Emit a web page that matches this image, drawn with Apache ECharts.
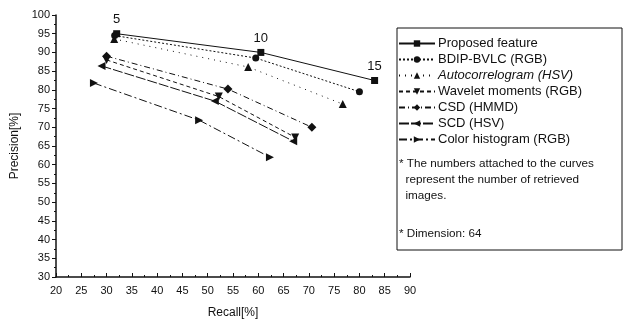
<!DOCTYPE html>
<html><head><meta charset="utf-8">
<script src="https://cdn.jsdelivr.net/npm/echarts@6/dist/echarts.min.js"></script>
<style>html,body{margin:0;padding:0;background:#fff}#c{width:629px;height:320px}</style>
</head><body><div id="c"></div>
<script>
const retrieved = ['5', '10', '15'];
const seriesNames = ['Proposed feature','BDIP-BVLC (RGB)','Autocorrelogram (HSV)','Wavelet moments (RGB)','CSD (HMMD)','SCD (HSV)','Color histogram (RGB)'];
const proposedRecall = [32, 60.5, 83];
const proposedPrecision = [95, 90, 82.5];
const bdipRecall = [31.6, 59.5, 80];
const bdipPrecision = [94.5, 88.5, 79.5];
const autoRecall = [31.5, 58, 76.7];
const autoPrecision = [93.6, 86.1, 76.2];
const waveletRecall = [30, 52.2, 67.3];
const waveletPrecision = [88, 78.2, 67.3];
const csdRecall = [30, 54, 70.6];
const csdPrecision = [89, 80.2, 70];
const scdRecall = [29, 51.4, 66.9];
const scdPrecision = [86.4, 77, 66.3];
const histRecall = [27.5, 48.3, 62.3];
const histPrecision = [81.8, 71.9, 62];
const xTicks = [20,25,30,35,40,45,50,55,60,65,70,75,80,85,90];
const yTicks = [30,35,40,45,50,55,60,65,70,75,80,85,90,95,100];

const ink = '#111';
const font = 'Liberation Sans, Arial, sans-serif';
function pts(r, p){ return r.map((v,i)=>[v,p[i]]); }
const defs = [
  {r:proposedRecall,p:proposedPrecision,sym:'rect',type:'solid',size:7},
  {r:bdipRecall,p:bdipPrecision,sym:'circle',type:[2,2],size:7},
  {r:autoRecall,p:autoPrecision,sym:'triangle',type:[1,5],size:8},
  {r:waveletRecall,p:waveletPrecision,sym:'triangle',rot:180,type:[4,3],size:8},
  {r:csdRecall,p:csdPrecision,sym:'diamond',type:[6,3,1,3],size:9},
  {r:scdRecall,p:scdPrecision,sym:'triangle',rot:90,type:[10,2],size:8},
  {r:histRecall,p:histPrecision,sym:'triangle',rot:-90,type:[8,3,2,3],size:8}
];
const series = defs.map((d,i)=>{
  const s = {
    name: seriesNames[i], type:'line', data: pts(d.r,d.p),
    symbol: d.sym, symbolSize: d.size, symbolRotate: d.rot||0,
    itemStyle:{color:ink}, lineStyle:{color:ink,width:1,type:d.type},
    animation:false, z: 10-i
  };
  if(i===0){
    s.label = {show:true, position:'top', distance:4, fontSize:13, color:ink, fontFamily:font,
      formatter: p => retrieved[p.dataIndex]};
  }
  return s;
});
const chart = echarts.init(document.getElementById('c'));
chart.setOption({
  animation:false,
  grid:{left:56,right:219,top:15,bottom:43,containLabel:false,outerBoundsMode:'none'},
  xAxis:{type:'value',min:20,max:90,interval:5,name:'Recall[%]',nameLocation:'middle',nameGap:30,
    nameTextStyle:{fontSize:12,color:ink,fontFamily:font},
    axisLine:{lineStyle:{color:ink,width:1.5}},axisTick:{inside:true,length:4,lineStyle:{color:ink}},
    minorTick:{show:true,splitNumber:2,length:2,lineStyle:{color:ink}},
    axisLabel:{fontSize:11,color:ink,fontFamily:font,margin:8,formatter:v=>xTicks.includes(v)?String(v):''},
    splitLine:{show:false}},
  yAxis:{type:'value',min:30,max:100,interval:5,name:'Precision[%]',nameLocation:'middle',nameGap:34,
    nameTextStyle:{fontSize:12,color:ink,fontFamily:font},
    axisLine:{show:true,lineStyle:{color:ink,width:1.5}},axisTick:{show:true,length:4,lineStyle:{color:ink}},
    minorTick:{show:true,splitNumber:2,length:2,lineStyle:{color:ink}},
    axisLabel:{fontSize:11,color:ink,fontFamily:font,margin:6,formatter:v=>yTicks.includes(v)?String(v):''},
    splitLine:{show:false}},
  legend:{orient:'vertical',left:398,top:37,padding:0,itemWidth:36,itemHeight:8,itemGap:3,
    textStyle:{fontSize:13,color:ink,fontFamily:font,padding:[0,0,0,-2]},
    data: seriesNames.map((n,i)=> i===2 ? {name:n,textStyle:{fontStyle:'italic'}} : {name:n})},
  graphic:[
    {type:'rect',shape:{x:397,y:28,width:225,height:222},style:{fill:'none',stroke:ink,lineWidth:1},silent:true},
    {type:'text',left:399,top:156,style:{text:'* The numbers attached to the curves\n  represent the number of retrieved\n  images.',font:'11.7px '+font,fill:ink,lineHeight:16}},
    {type:'text',left:399,top:228,style:{text:'* Dimension: 64',font:'11.7px '+font,fill:ink}}
  ],
  series: series
});
</script></body></html>
